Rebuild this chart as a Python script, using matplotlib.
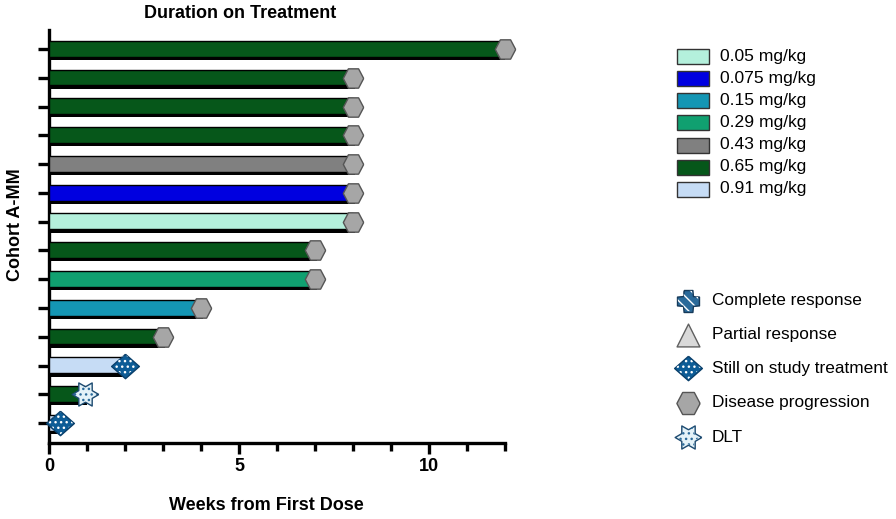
import numpy as np
import matplotlib
matplotlib.use("Agg")
import matplotlib.pyplot as plt
from matplotlib.path import Path
from matplotlib.patches import Rectangle

plt.rcParams["font.family"] = ["Liberation Sans", "DejaVu Sans"]

# patients, top to bottom
weeks = [12, 8, 8, 8, 8, 8, 8, 7, 7, 4, 3, 2, 0.95, 0.3]
doses = ["0.65 mg/kg", "0.65 mg/kg", "0.65 mg/kg", "0.65 mg/kg", "0.43 mg/kg",
         "0.075 mg/kg", "0.05 mg/kg", "0.65 mg/kg", "0.29 mg/kg", "0.15 mg/kg",
         "0.65 mg/kg", "0.91 mg/kg", "0.65 mg/kg", "0.91 mg/kg"]
outcomes = ["Disease progression"] * 11 + ["Still on study treatment", "DLT",
                                           "Still on study treatment"]

dose_labels = ["0.05 mg/kg", "0.075 mg/kg", "0.15 mg/kg", "0.29 mg/kg",
               "0.43 mg/kg", "0.65 mg/kg", "0.91 mg/kg"]
dose_colors = ["#b4f0dc", "#0000e0", "#1496b4", "#10a070",
               "#808080", "#06571a", "#c6dcf5"]
outcome_labels = ["Complete response", "Partial response",
                  "Still on study treatment", "Disease progression", "DLT"]

# marker shapes
hexagon = Path([(1, 0), (0.5, 0.95), (-0.5, 0.95), (-1, 0),
                (-0.5, -0.95), (0.5, -0.95), (1, 0)])
diamond = Path([(0, 0.88), (1, 0), (0, -0.88), (-1, 0), (0, 0.88)])
star_pts = []
for k in range(12):
    r = 1.0 if k % 2 == 0 else 0.58
    a = np.radians(k * 30)
    star_pts.append((r * np.cos(a), r * np.sin(a)))
star_pts.append(star_pts[0])
star6 = Path(star_pts)
cross = Path([(-0.4, 1), (0.4, 1), (0.45, 0.45), (1, 0.4), (1, -0.4), (0.45, -0.45),
              (0.4, -1), (-0.4, -1), (-0.45, -0.45), (-1, -0.4), (-1, 0.4),
              (-0.45, 0.45), (-0.4, 1)])

marker_style = {
    "Complete response": dict(marker=cross, s=250, fc="#2a6a9a", ec="#163a5a", hatch="\\\\\\"),
    "Partial response": dict(marker="^", s=270, fc="#d9d9d9", ec="#606060", hatch=None),
    "Still on study treatment": dict(marker=diamond, s=400, fc="#0d5c96", ec="#0a3f6a", hatch="..."),
    "Disease progression": dict(marker=hexagon, s=215, fc="#a6a6a6", ec="#555555", hatch=None),
    "DLT": dict(marker=star6, s=370, fc="#e4f2f8", ec="#1d4a70", hatch="..."),
}


def draw_marker(axis, x, y, name, scale=1.0):
    st = marker_style[name]
    size = st["s"] * scale
    axis.scatter(x, y, marker=st["marker"], s=size, facecolor=st["fc"],
                 edgecolor=st["ec"], linewidths=1.0, zorder=5, clip_on=False)
    if st["hatch"]:
        dot_color = "white" if name != "DLT" else "#2a6a9a"
        axis.scatter(x, y, marker=st["marker"], s=size * 0.85, facecolor="none",
                     edgecolor=dot_color, linewidths=0, hatch=st["hatch"],
                     zorder=6, clip_on=False)


fig = plt.figure(figsize=(8.96, 5.19), dpi=100)
ax = fig.add_axes([49 / 896, 1 - 443 / 519, (505 - 49) / 896, (443 - 30) / 519])

rows = np.arange(len(weeks))
color_of = dict(zip(dose_labels, dose_colors))

# black drop shadow under each bar, then the coloured bar
ax.barh(rows + 0.08, np.array(weeks) + 0.05, height=0.6, color="black", zorder=2)
ax.barh(rows - 0.01, weeks, height=0.55, color=[color_of[d] for d in doses],
        edgecolor="black", linewidth=1.0, zorder=3)

for r, wk, oc in zip(rows, weeks, outcomes):
    draw_marker(ax, wk, r, oc)

ax.set_xlim(0, 12)
ax.set_ylim(13.69, -0.66)
ax.set_xticks([0, 5, 10])
ax.set_xticks(np.arange(0, 13, 1), minor=True)
ax.set_yticks(rows)
ax.set_yticklabels([])
for side in ["top", "right"]:
    ax.spines[side].set_visible(False)
for side in ["left", "bottom"]:
    ax.spines[side].set_linewidth(2.4)
ax.tick_params(axis="x", which="major", width=2.4, length=8, labelsize=13, pad=3)
ax.tick_params(axis="x", which="minor", width=2.4, length=5.5)
ax.tick_params(axis="y", width=2.4, length=8)
for lbl in ax.get_xticklabels():
    lbl.set_fontweight("bold")

fig.text(240 / 896, 1 - 14 / 519, "Duration on Treatment", ha="center", va="center",
         fontsize=13, fontweight="bold")
fig.text(266 / 896, 1 - 505 / 519, "Weeks from First Dose", ha="center", va="center",
         fontsize=13, fontweight="bold")
fig.text(16 / 896, 1 - 225 / 519, "Cohort A-MM", ha="center", va="center",
         rotation=90, fontsize=13, fontweight="bold")

# legends drawn in pixel coordinates on an overlay axes
lg = fig.add_axes([0, 0, 1, 1])
lg.set_xlim(0, 896)
lg.set_ylim(519, 0)
lg.axis("off")

dose_y = [56, 78, 100, 122, 145, 167, 189]
for y, lab, col in zip(dose_y, dose_labels, dose_colors):
    lg.add_patch(Rectangle((677, y - 7.5), 32, 15, facecolor=col,
                           edgecolor="#333333", linewidth=1.0))
    lg.text(720, y, lab, va="center", ha="left", fontsize=12.6)

outcome_y = [301, 335, 368, 403, 437]
legend_scale = [1.0, 1.0, 1.0, 1.3, 1.0]
for y, lab, sc in zip(outcome_y, outcome_labels, legend_scale):
    draw_marker(lg, 688, y, lab, sc)
    lg.text(712, y, lab, va="center", ha="left", fontsize=12.4)

fig.savefig("out.png", dpi=100)
